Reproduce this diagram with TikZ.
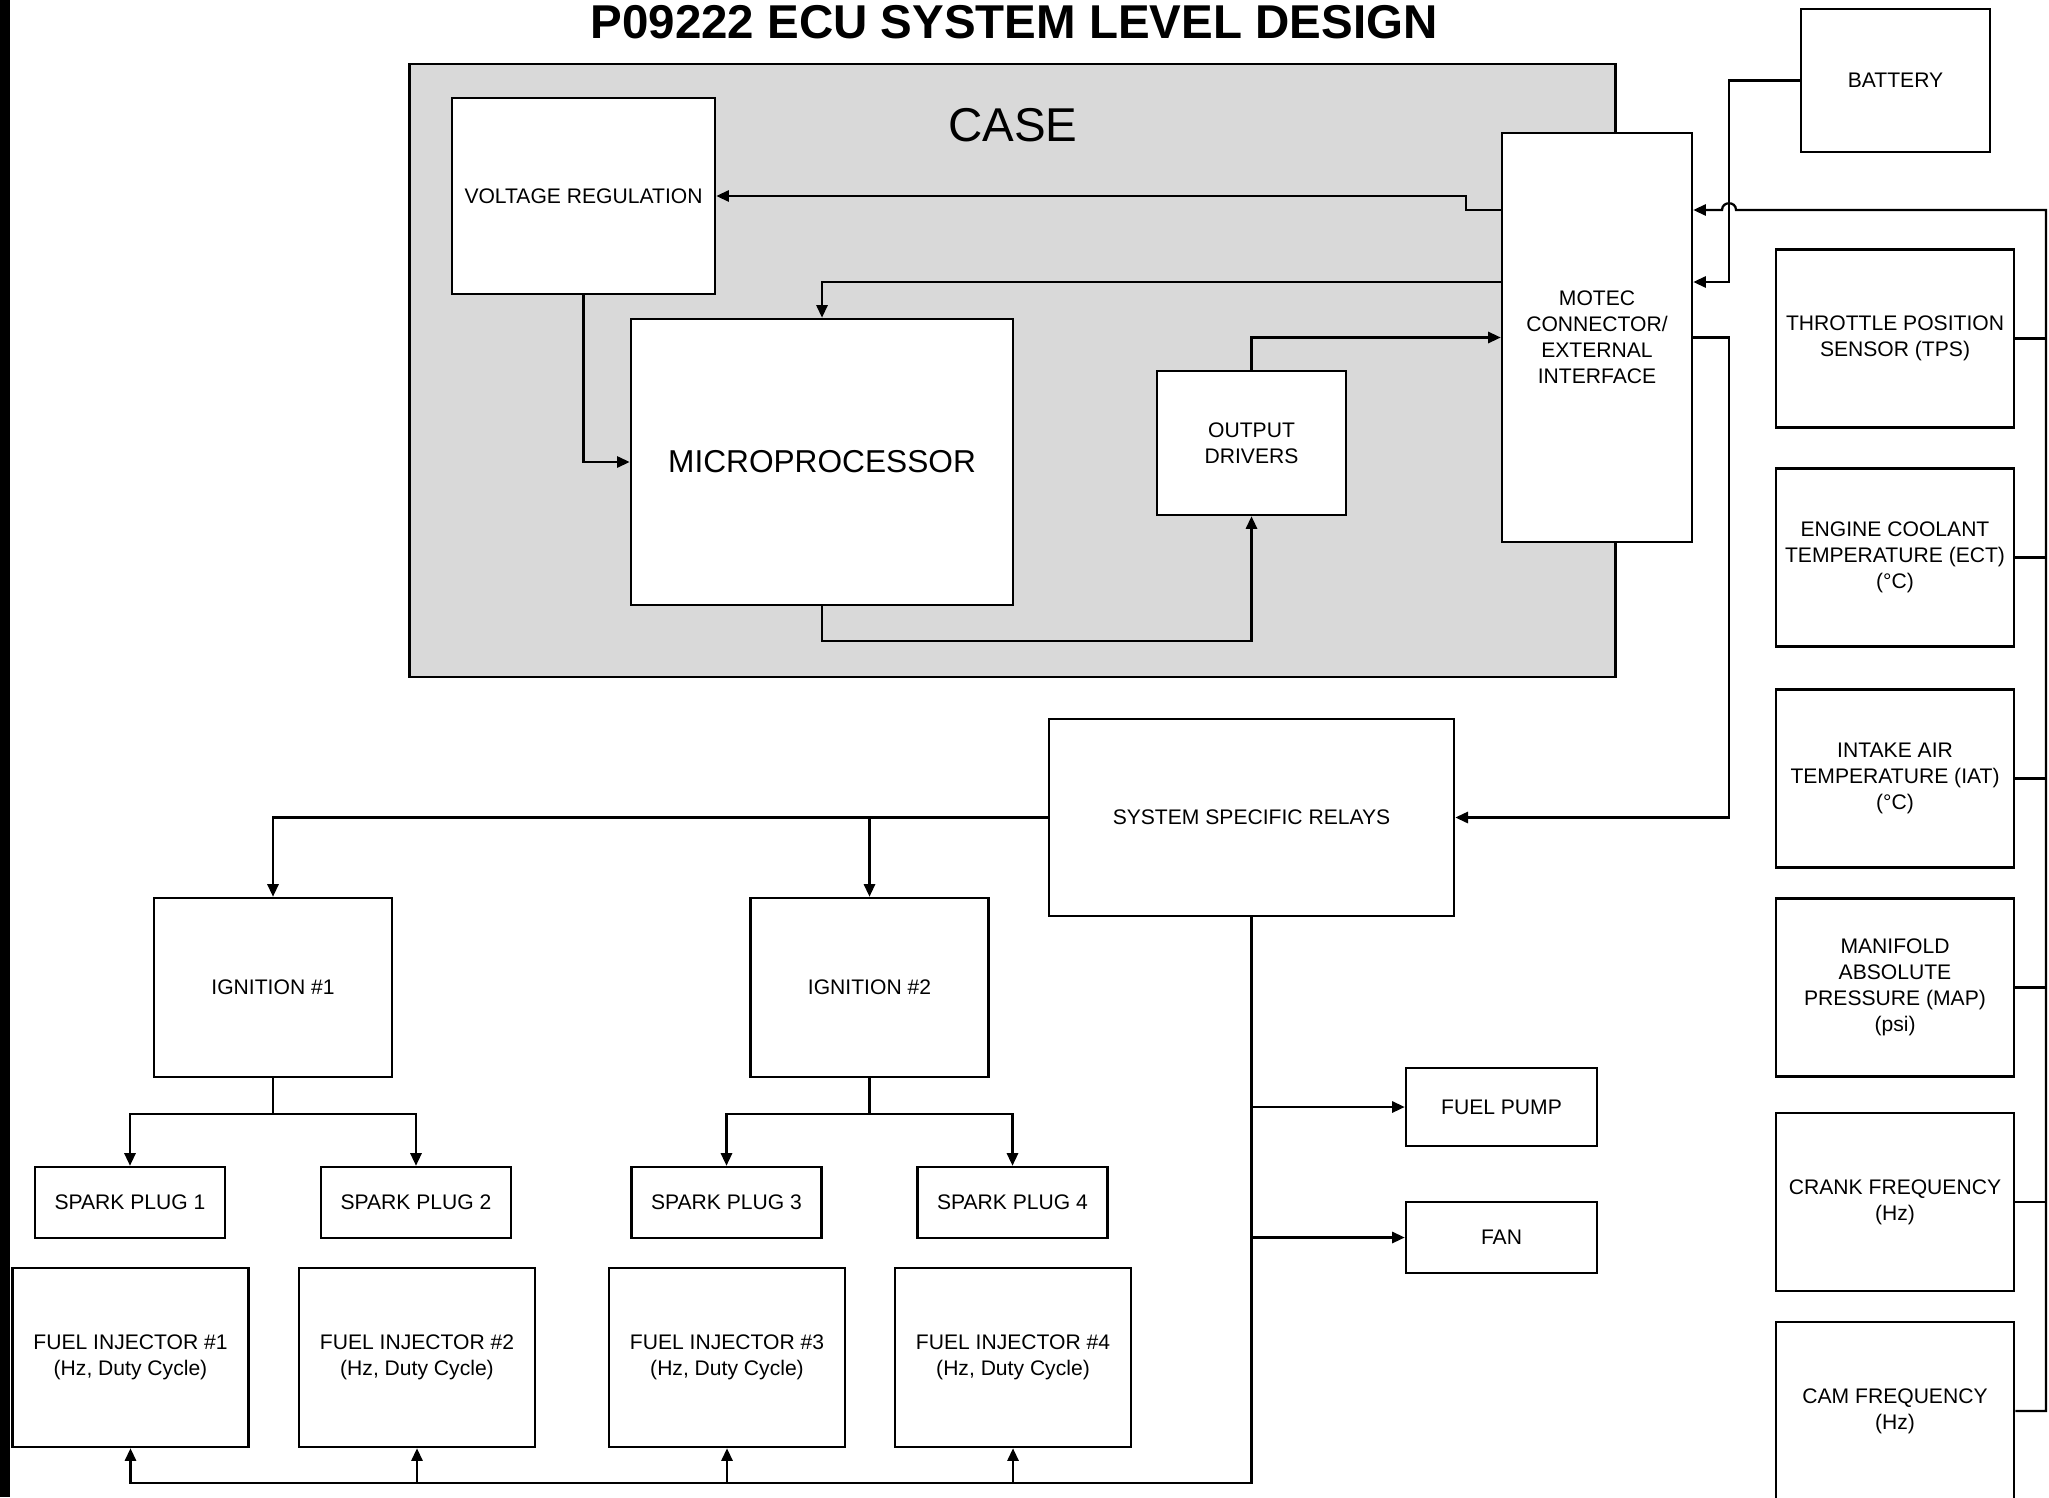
\documentclass[tikz,border=0pt]{standalone}
\usepackage{fontspec}
\setmainfont{Liberation Sans}
\usetikzlibrary{arrows.meta}
\definecolor{casegray}{HTML}{D9D9D9}
\tikzset{
  blk/.style={draw, fill=white, line width=0.7pt, inner sep=0pt, align=center,
    font=\fontsize{6}{7.4}\selectfont},
  sz/.style 2 args={minimum width=#1, minimum height=#2},
  arr/.style={-{Triangle[length=3.6pt,width=3.2pt]}, line width=0.65pt},
  wire/.style={line width=0.65pt},
}
\begin{document}
\begin{tikzpicture}[x=0.01cm, y=-0.01cm]
\useasboundingbox (0,0) rectangle (2049,1497);
\fill[black] (0,0) rectangle (10,1497);
\node[font=\fontsize{13.5}{16}\selectfont\bfseries] (title) at (1014,22) {P09222 ECU SYSTEM LEVEL DESIGN};

% case and its contents
\node[draw, fill=casegray, line width=0.7pt, sz={12.05cm}{6.13cm}] (case) at (1012.5,370.5) {};
\node[font=\fontsize{13.5}{16}\selectfont] (caselbl) at (1013,125) {CASE};
\node[blk, sz={2.63cm}{1.96cm}] (vreg) at (583.5,196) {VOLTAGE REGULATION};
\node[blk, sz={3.82cm}{2.86cm}, font=\fontsize{9}{11}\selectfont] (micro) at (822,462) {MICROPROCESSOR};
\node[blk, sz={1.89cm}{1.44cm}] (outdrv) at (1251.5,443) {OUTPUT\\DRIVERS};
\node[blk, sz={1.90cm}{4.09cm}] (motec) at (1597,337.5) {MOTEC\\CONNECTOR/\\EXTERNAL\\INTERFACE};
\node[blk, sz={1.89cm}{1.43cm}] (battery) at (1895.5,80.5) {BATTERY};

% sensors
\foreach \n/\y/\t in {tps/338.5/{THROTTLE POSITION\\SENSOR (TPS)},
    ect/557.5/{ENGINE COOLANT\\TEMPERATURE (ECT)\\(°C)},
    iat/778.5/{INTAKE AIR\\TEMPERATURE (IAT)\\(°C)},
    map/987.5/{MANIFOLD\\ABSOLUTE\\PRESSURE (MAP)\\(psi)},
    crank/1202/{CRANK FREQUENCY\\(Hz)},
    cam/1411/{CAM FREQUENCY\\(Hz)}}
  \node[blk, sz={2.38cm}{1.78cm}] (\n) at (1895,\y) {\t};

% outputs
\node[blk, sz={4.05cm}{1.97cm}] (relays) at (1251.5,817.5) {SYSTEM SPECIFIC RELAYS};
\node[blk, sz={2.38cm}{1.79cm}] (ign1) at (273,987.5) {IGNITION \#1};
\node[blk, sz={2.38cm}{1.79cm}] (ign2) at (869.5,987.5) {IGNITION \#2};
\foreach \i/\x in {1/130,2/416,3/726.5,4/1012.5}
  \node[blk, sz={1.90cm}{0.71cm}] (sp\i) at (\x,1202.5) {SPARK PLUG \i};
\foreach \i/\x in {1/130.5,2/417,3/727,4/1013}
  \node[blk, sz={2.36cm}{1.79cm}] (fi\i) at (\x,1357.5) {FUEL INJECTOR \#\i\\(Hz, Duty Cycle)};
\node[blk, sz={1.91cm}{0.78cm}] (pump) at (1501.5,1107) {FUEL PUMP};
\node[blk, sz={1.91cm}{0.71cm}] (fan) at (1501.5,1237.5) {FAN};

% connections
\draw[arr] (motec.west |- 0,210) -- (1466,210) |- (vreg.east);
\draw[arr] (motec.west |- 0,282) -| (micro.north);
\draw[arr] (vreg.south) |- (micro.west);
\draw[arr] (micro.south) -- ++(0,35) -| (outdrv.south);
\draw[arr] (outdrv.north) |- (motec.west);
\draw[arr] (motec.east) -- (motec.east -| 1729,0) |- (relays.east);
\draw[arr] (battery.west) -| (1729,282) -- (motec.east |- 0,282);
\draw[arr] (cam.east) -| (2046,210) -- (1736,210) .. controls (1736,201) and (1722,201) .. (1722,210) -- (motec.east |- 0,210);
\foreach \n in {tps,ect,iat,map,crank}
  \draw[wire] (\n.east) -- (\n.east -| 2046,0);

\draw[arr] (relays.west) -| (ign1.north);
\draw[arr] (relays.west -| ign2.north) -- (ign2.north);
\foreach \g/\a/\b in {ign1/sp1/sp2, ign2/sp3/sp4} {
  \draw[arr] (\g.south) -- ++(0,36) -| (\a.north);
  \draw[arr] (\g.south) -- ++(0,36) -| (\b.north);
}
\coordinate (fbus) at (1251.5,1483);
\draw[arr] (relays.south) -- (fbus) -| (fi1.south);
\foreach \f in {fi2,fi3,fi4}
  \draw[arr] (fbus -| \f.south) -- (\f.south);
\draw[arr] (relays.south |- pump.west) -- (pump.west);
\draw[arr] (relays.south |- fan.west) -- (fan.west);
\end{tikzpicture}
\end{document}
